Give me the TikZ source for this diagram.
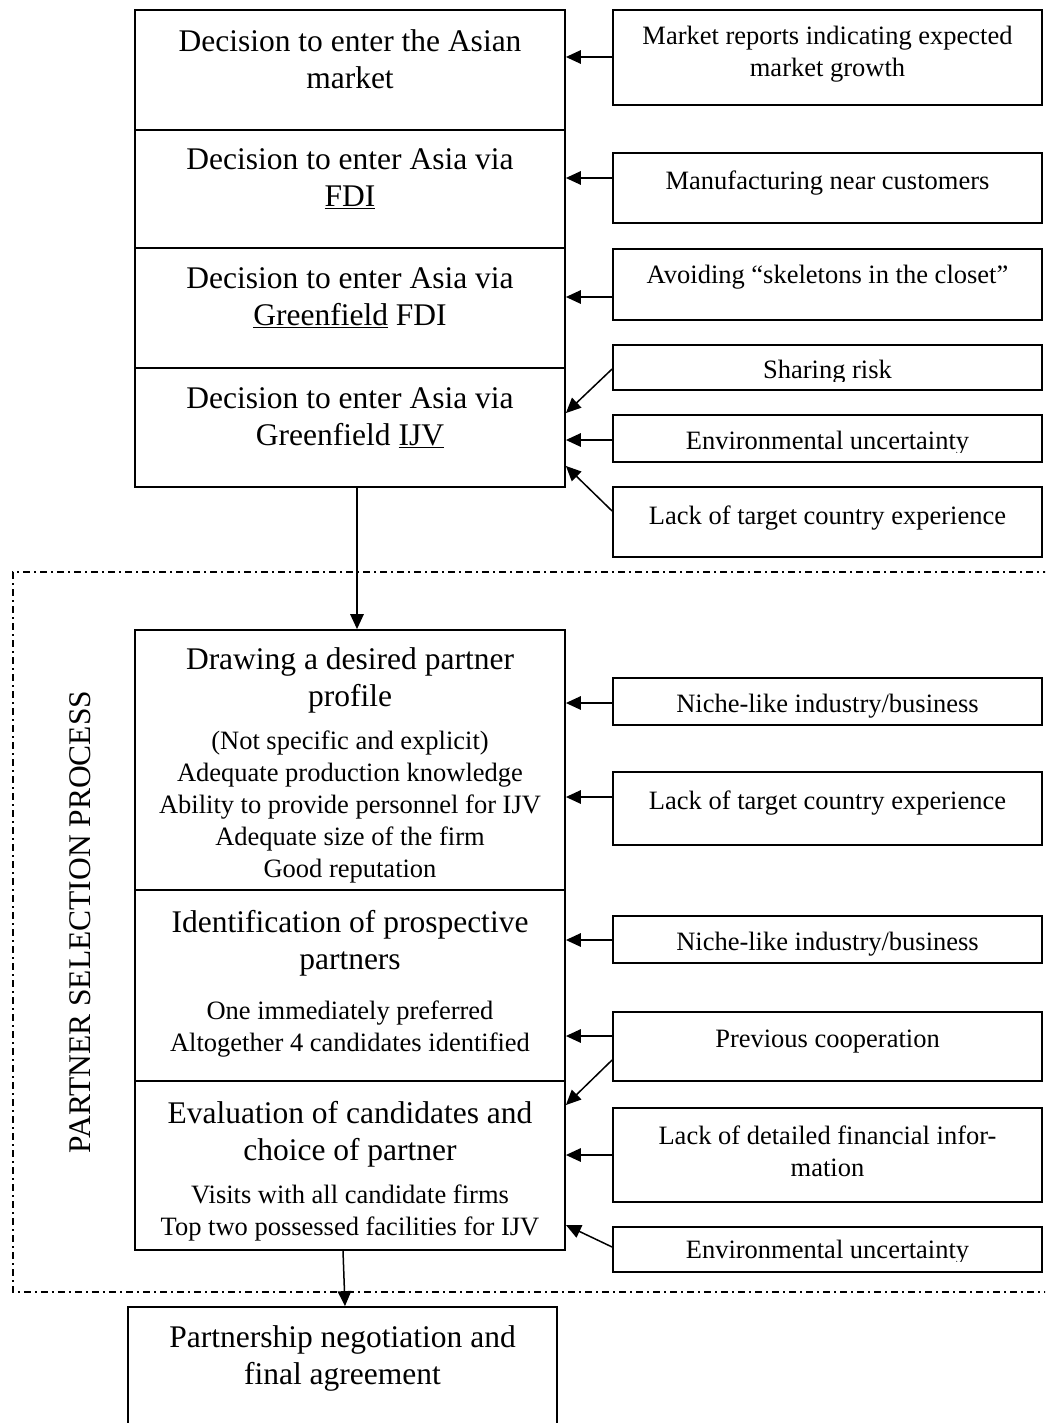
\documentclass[tikz,border=0pt]{standalone}
\usepackage{fontspec}
\setmainfont{Liberation Serif}
\usetikzlibrary{arrows.meta}
\begin{document}
\begin{tikzpicture}[x=1pt,y=-1pt,
  boxs/.style={draw, line width=1.8pt, inner sep=0pt, rectangle},
  lbox/.style={boxs, minimum width=430pt},
  rbox/.style={boxs, minimum width=429pt},
  big/.style={align=center, font=\fontsize{31.5}{37}\selectfont, inner sep=0pt},
  small/.style={align=center, font=\fontsize{26.5}{31.8}\selectfont, inner sep=0pt},
  arr/.style={line width=1.5pt, -{Triangle[length=15pt,width=13.5pt]}},
  frame/.style={line width=1.5pt, dash pattern=on 7pt off 4pt on 2pt off 4pt}]
\useasboundingbox (0,0) rectangle (1045,1423);
\begin{scope}
\clip (0,0) rectangle (1045,1423);
\fill[white] (0,0) rectangle (1045,1423);

% left column boxes
\node[lbox, minimum height=120pt] (b1) at (350,70) {};
\node[lbox, minimum height=118pt] (b2) at (350,189) {};
\node[lbox, minimum height=120pt] (b3) at (350,308) {};
\node[lbox, minimum height=119pt] (b4) at (350,427.5) {};
\node[lbox, minimum height=260pt] (b5) at (350,760) {};
\node[lbox, minimum height=191pt] (b6) at (350,985.5) {};
\node[lbox, minimum height=169pt] (b7) at (350,1165.5) {};
\node[boxs, minimum width=429pt, minimum height=143pt] (b8) at (342.5,1378.5) {};

\node[big] (t1) at (350,59) {Decision to enter the Asian\\market};
\node[big] (t2) at (350,179) {Decision to enter Asia via\\\underline{FDI}};
\node[big] (t3) at (350,298) {Decision to enter Asia via\\\underline{Greenfield} FDI};
\node[big] (t4) at (350,418) {Decision to enter Asia via\\Greenfield \underline{IJV}};
\node[big] (t5a) at (350,680) {Drawing a desired partner\\profile};
\node[small] (t5b) at (350,807) {(Not specific and explicit)\\Adequate production knowledge\\Ability to provide personnel for IJV\\Adequate size of the firm\\Good reputation};
\node[big] (t6a) at (350,943) {Identification of prospective\\partners};
\node[small] (t6b) at (350,1029) {One immediately preferred\\Altogether 4 candidates identified};
\node[big] (t7a) at (350,1134) {Evaluation of candidates and\\choice of partner};
\node[small] (t7b) at (350,1213) {Visits with all candidate firms\\Top two possessed facilities for IJV};
\node[big] (t8) at (342.5,1358) {Partnership negotiation and\\final agreement};

% right column boxes
\node[rbox, minimum height=95pt] (r1) at (827.5,57.5) {};
\node[rbox, minimum height=70pt] (r2) at (827.5,188) {};
\node[rbox, minimum height=71pt] (r3) at (827.5,284.5) {};
\node[rbox, minimum height=45pt] (r4) at (827.5,367.5) {};
\node[rbox, minimum height=47pt] (r5) at (827.5,438.5) {};
\node[rbox, minimum height=70pt] (r6) at (827.5,522) {};
\node[rbox, minimum height=47pt] (r7) at (827.5,701.5) {};
\node[rbox, minimum height=73pt] (r8) at (827.5,808.5) {};
\node[rbox, minimum height=47pt] (r9) at (827.5,939.5) {};
\node[rbox, minimum height=69pt] (r10) at (827.5,1046.5) {};
\node[rbox, minimum height=94pt] (r11) at (827.5,1155) {};
\node[rbox, minimum height=45pt] (r12) at (827.5,1249.5) {};

\node[small] (r1t) at (827.5,54) {Market reports indicating expected\\market growth};
\node[small] (r2t) at (827.5,183) {Manufacturing near customers};
\node[small] (r3t) at (827.5,277) {Avoiding “skeletons in the closet”};
\begin{scope}
\clip (613,345) rectangle (1042,381);
\node[small, anchor=base] (r4t) at (827.5,378) {Sharing risk};
\end{scope}
\begin{scope}
\clip (613,415) rectangle (1042,452);
\node[small, anchor=base] (r5t) at (827.5,449) {Environmental uncertainty};
\end{scope}
\node[small] (r6t) at (827.5,518) {Lack of target country experience};
\node[small] (r7t) at (827.5,706) {Niche-like industry/business};
\node[small] (r8t) at (827.5,803) {Lack of target country experience};
\node[small] (r9t) at (827.5,944) {Niche-like industry/business};
\node[small] (r10t) at (827.5,1042) {Previous cooperation};
\node[small] (r11t) at (827.5,1151) {Lack of detailed financial infor-\\mation};
\begin{scope}
\clip (613,1227) rectangle (1042,1261);
\node[small, anchor=base] (r12t) at (827.5,1258) {Environmental uncertainty};
\end{scope}

% frame of the partner selection process
\draw[frame] (1050,572) -- (13,572) -- (13,1292) -- (1050,1292);
\node[rotate=90, font=\fontsize{31.5}{37}\selectfont, inner sep=0pt] (psp) at (80,922) {PARTNER SELECTION PROCESS};

% connectors
\draw[arr] (r1.west |- 0,57) -- (b1.east |- 0,57);
\draw[arr] (r2.west |- 0,178) -- (b2.east |- 0,178);
\draw[arr] (r3.west |- 0,297) -- (b3.east |- 0,297);
\draw[arr] (r4.west |- 0,369) -- (b4.east |- 0,413);
\draw[arr] (r5.west |- 0,440) -- (b4.east |- 0,440);
\draw[arr] (r6.west |- 0,511) -- (b4.east |- 0,466);
\draw[arr] (b4.south -| 357,0) -- (b5.north -| 357,0);
\draw[arr] (r7.west |- 0,703) -- (b5.east |- 0,703);
\draw[arr] (r8.west |- 0,797) -- (b5.east |- 0,797);
\draw[arr] (r9.west |- 0,940) -- (b6.east |- 0,940);
\draw[arr] (r10.west |- 0,1036) -- (b6.east |- 0,1036);
\draw[arr] (r10.west |- 0,1060) -- (b7.east |- 0,1105);
\draw[arr] (r11.west |- 0,1155) -- (b7.east |- 0,1155);
\draw[arr] (r12.west |- 0,1247) -- (b7.east |- 0,1225);
\draw[arr] (b7.south -| 343,0) -- (b8.north -| 345,0);
\end{scope}
\end{tikzpicture}
\end{document}
